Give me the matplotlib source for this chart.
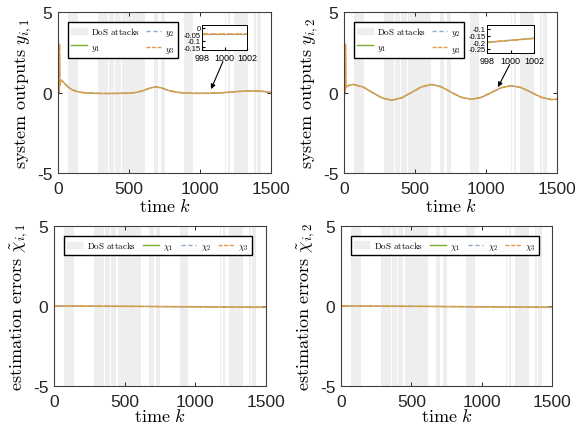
import matplotlib.pyplot as plt
from matplotlib.patches import Patch
from matplotlib.lines import Line2D

plt.rcParams['mathtext.fontset'] = 'cm'
plt.rcParams['axes.unicode_minus'] = False
plt.rcParams['font.family'] = 'Liberation Sans'

W, H = 584, 427

# DoS attack intervals (time k)
dos_start = [68, 282, 362, 402, 453, 675, 722, 888, 1174, 1197, 1240, 1382, 1402]
dos_end = [140, 353, 395, 441, 615, 705, 750, 950, 1182, 1210, 1340, 1396, 1432]

# system outputs, first component (all three agents coincide)
k_out1 = [9, 10, 12, 16, 24, 40, 60, 80, 100, 130, 160, 200, 300, 400, 500, 550,
          600, 650, 690, 730, 780, 850, 950, 1050, 1150, 1250, 1300, 1350, 1400,
          1450, 1500]
y_out1 = [0.0, 3.0, 0.45, 0.68, 0.76, 0.62, 0.44, 0.28, 0.17, 0.07, 0.01, -0.03,
          -0.06, -0.06, -0.04, 0.0, 0.12, 0.28, 0.35, 0.28, 0.12, 0.0, -0.05, -0.05,
          -0.02, 0.05, 0.08, 0.1, 0.1, 0.06, 0.0]

# system outputs, second component
k_out2 = [9, 10, 12, 24, 66, 133, 200, 268, 335, 405, 475, 545, 616, 687, 757, 827,
          898, 968, 1038, 1108, 1179, 1250, 1320, 1390, 1460, 1500]
y_out2 = [0.0, 3.0, 0.3, 0.42, 0.5, 0.35, 0.0, -0.34, -0.48, -0.34, 0.0, 0.35,
          0.5, 0.35, 0.0, -0.3, -0.42, -0.3, 0.0, 0.3, 0.42, 0.3, 0.0, -0.3,
          -0.44, -0.42]

# estimation errors (all three agents coincide)
k_err = [0, 500, 1000, 1500]
e_err1 = [0.0, -0.02, -0.05, -0.08]
e_err2 = [0.0, -0.02, -0.05, -0.08]

# zoomed insets around k = 1000
inset1_k = [998, 1002]
inset1_y = [-0.05, -0.05]
inset2_k = [998, 1002]
inset2_y = [-0.2, -0.17]

c_green = '#77AC30'
c_blue = '#8fa8d0'
c_orange = '#E39A4A'
c_dos = '#eeeeee'


def px_axes(fig, left, top, right, bottom):
    return fig.add_axes([left / W, 1 - bottom / H, (right - left) / W, (bottom - top) / H])


def draw3(ax, k, y):
    ax.plot(k, y, color=c_green, lw=0.8)
    ax.plot(k, y, color=c_blue, lw=0.8, dashes=(3, 2))
    ax.plot(k, y, color=c_orange, lw=1.2, dashes=(4, 1))


def style(ax, labelpad):
    ax.set_xlim(0, 1500)
    ax.set_ylim(-5, 5)
    ax.set_xticks([0, 500, 1000, 1500])
    ax.set_yticks([-5, 0, 5])
    ax.tick_params(direction='in', top=True, right=True, labelsize=12.5, length=3,
                   width=0.7, colors='#262626')
    ax.tick_params(axis='x', pad=6)
    ax.tick_params(axis='y', pad=4)
    for s in ax.spines.values():
        s.set_linewidth(0.8)
        s.set_color('#404040')
    for a, b in zip(dos_start, dos_end):
        ax.axvspan(a, b, color=c_dos, lw=0, zorder=0)
    ax.set_xlabel(r'$\mathrm{time}\ k$', fontsize=13, labelpad=labelpad)


def inset(fig, left, top, right, bottom, k, y, ylim, yticks, yticklabels):
    ia = px_axes(fig, left, top, right, bottom)
    draw3(ia, k, y)
    ia.set_xlim(998, 1002)
    ia.set_ylim(*ylim)
    ia.set_xticks([998, 1000, 1002])
    ia.set_yticks(yticks)
    ia.set_yticklabels(yticklabels)
    ia.tick_params(axis='x', direction='in', labelsize=6.5, length=2, pad=2)
    ia.tick_params(axis='y', direction='in', labelsize=5.5, length=2, pad=1)
    for s in ia.spines.values():
        s.set_linewidth(0.7)
    return ia


def legend(ax, handles, ncol, y_anchor, colsp, lsp):
    ax.legend(handles=handles, ncol=ncol, loc='upper left', bbox_to_anchor=(0.047, y_anchor),
              fontsize=6.5, frameon=True, fancybox=False, edgecolor='black', framealpha=1,
              borderpad=0.35, handlelength=1.7, columnspacing=colsp, handletextpad=0.5,
              labelspacing=lsp, borderaxespad=0)


fig = plt.figure(figsize=(W / 100, H / 100), dpi=100)

out_handles = [Patch(color=c_dos, label=r'$\mathrm{DoS\ attacks}$'),
               Line2D([], [], color=c_green, lw=1, label=r'$y_1$'),
               Line2D([], [], color=c_blue, lw=1, dashes=(3, 2), label=r'$y_2$'),
               Line2D([], [], color=c_orange, lw=1, dashes=(3, 1), label=r'$y_3$')]
err_handles = [Patch(color=c_dos, label=r'$\mathrm{DoS\ attacks}$'),
               Line2D([], [], color=c_green, lw=1, label=r'$\chi_1$'),
               Line2D([], [], color=c_blue, lw=1, dashes=(3, 2), label=r'$\chi_2$'),
               Line2D([], [], color=c_orange, lw=1, dashes=(3, 1), label=r'$\chi_3$')]

# top left
ax1 = px_axes(fig, 58, 13, 271, 174)
style(ax1, 1)
draw3(ax1, k_out1, y_out1)
ax1.set_ylabel(r'$\mathrm{system\ outputs}\ y_{i,1}$', fontsize=13, labelpad=2)
legend(ax1, out_handles, 2, 0.938, 0.6, 0.6)
inset(fig, 202, 26, 247, 51, inset1_k, inset1_y, (-0.17, 0.02),
      [0, -0.05, -0.1, -0.15], ['0', '-0.05', '-0.1', '-0.15'])
ax1.annotate('', xy=(1070, 0.05), xycoords='data',
             xytext=(224 / W, 1 - 60 / H), textcoords='figure fraction',
             arrowprops=dict(arrowstyle='-|>', color='black', lw=0.8, mutation_scale=7))

# top right
ax2 = px_axes(fig, 344, 13, 557, 174)
style(ax2, 1)
draw3(ax2, k_out2, y_out2)
ax2.set_ylabel(r'$\mathrm{system\ outputs}\ y_{i,2}$', fontsize=13, labelpad=2)
legend(ax2, out_handles, 2, 0.938, 0.6, 0.6)
inset(fig, 487, 26, 534, 54, inset2_k, inset2_y, (-0.28, -0.07),
      [-0.1, -0.15, -0.2, -0.25], ['-0.1', '-0.15', '-0.2', '-0.25'])
ax2.annotate('', xy=(1075, 0.18), xycoords='data',
             xytext=(511 / W, 1 - 63 / H), textcoords='figure fraction',
             arrowprops=dict(arrowstyle='-|>', color='black', lw=0.8, mutation_scale=7))

# bottom left
ax3 = px_axes(fig, 54, 227, 266, 387)
style(ax3, -1)
draw3(ax3, k_err, e_err1)
ax3.set_ylabel(r'$\mathrm{estimation\ errors}\ \tilde{\chi}_{i,1}$', fontsize=13, labelpad=2)
legend(ax3, err_handles, 4, 0.9375, 0.8, 0.3)

# bottom right
ax4 = px_axes(fig, 341, 227, 552, 387)
style(ax4, -1)
draw3(ax4, k_err, e_err2)
ax4.set_ylabel(r'$\mathrm{estimation\ errors}\ \tilde{\chi}_{i,2}$', fontsize=13, labelpad=2)
legend(ax4, err_handles, 4, 0.94, 0.8, 0.3)

fig.savefig('out.png', dpi=100)
